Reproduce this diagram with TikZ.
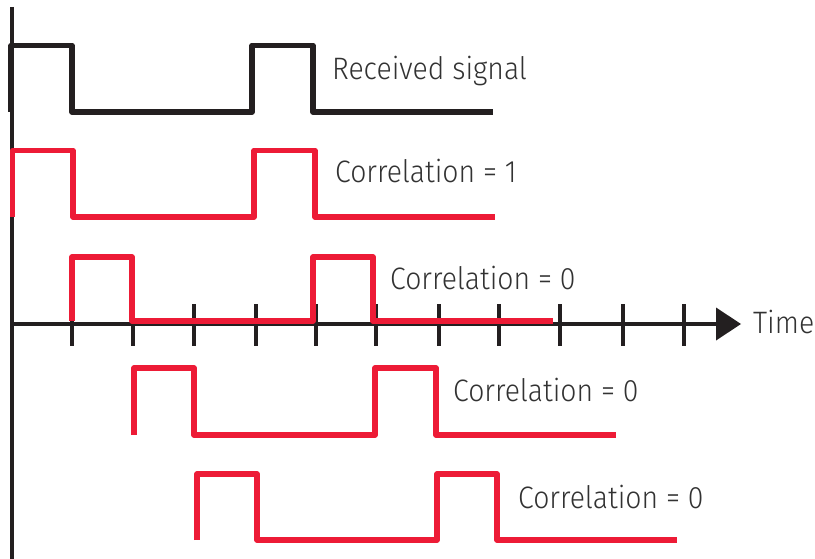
\documentclass[tikz,border=0pt]{standalone}
\usepackage{fontspec}
\setmainfont{Fira Sans Light}
\definecolor{sigblack}{RGB}{35,31,32}
\definecolor{sigred}{RGB}{237,27,54}
\definecolor{txtgray}{RGB}{50,50,50}
\newcommand{\narrowtxt}[1]{\scalebox{0.915}[1]{#1}}
\begin{document}
\begin{tikzpicture}[x=1pt,y=-1pt,
  wave/.style={line width=5.5pt,line join=round,line cap=butt},
  blackwave/.style={wave,draw=sigblack},
  redwave/.style={wave,draw=sigred},
  axisline/.style={line width=4pt,draw=sigblack},
  tickline/.style={line width=4pt,draw=sigblack},
  lbl/.style={anchor=base west,inner sep=0pt,text=txtgray,font=\fontsize{31}{31}\selectfont}]
\useasboundingbox (0,0) rectangle (815,559);
% axes
\coordinate (ytop) at (12,7);
\coordinate (ybot) at (12,559);
\coordinate (xorg) at (12,324);
\coordinate (xend) at (718,324);
\draw[axisline] (ytop) -- (ybot);
\draw[axisline] (xorg) -- (xend);
\fill[sigblack] (716,307.5) -- (741,324) -- (716,340.5) -- cycle;
\node[lbl] (time) at (753,333) {\narrowtxt{Time}};
% ticks
\foreach \tx in {72,132.5,194,256,316,376,439,499,560,623,684}
  \draw[tickline] (\tx,304) -- (\tx,346);
% received signal
\draw[blackwave] (11,112) -- (11,45.5) -- (72,45.5) -- (72,112) -- (252,112) -- (252,45.5) -- (313,45.5) -- (313,112) -- (493,112);
\node[lbl] (rs) at (332,80) {\narrowtxt{Received signal}};
% correlation 1
\draw[redwave] (12.5,217) -- (12.5,150.5) -- (73,150.5) -- (73,217) -- (254,217) -- (254,150.5) -- (315,150.5) -- (315,217) -- (495,217);
\node[lbl] (c1) at (335,183) {\narrowtxt{Correlation = 1}};
% correlation 0 (shift 1)
\draw[redwave] (72,321) -- (72,257) -- (132,257) -- (132,321) -- (313,321) -- (313,257) -- (373,257) -- (373,321) -- (553,321);
\node[lbl] (c2) at (390,290) {\narrowtxt{Correlation = 0}};
% correlation 0 (shift 2)
\draw[redwave] (134,435) -- (134,368) -- (194,368) -- (194,435) -- (375,435) -- (375,368) -- (436,368) -- (436,435) -- (616,435);
\node[lbl] (c3) at (453,401) {\narrowtxt{Correlation = 0}};
% correlation 0 (shift 3)
\draw[redwave] (197,540) -- (197,474) -- (257,474) -- (257,540) -- (437,540) -- (437,474) -- (497,474) -- (497,540) -- (677,540);
\node[lbl] (c4) at (518,508) {\narrowtxt{Correlation = 0}};
\end{tikzpicture}
\end{document}
